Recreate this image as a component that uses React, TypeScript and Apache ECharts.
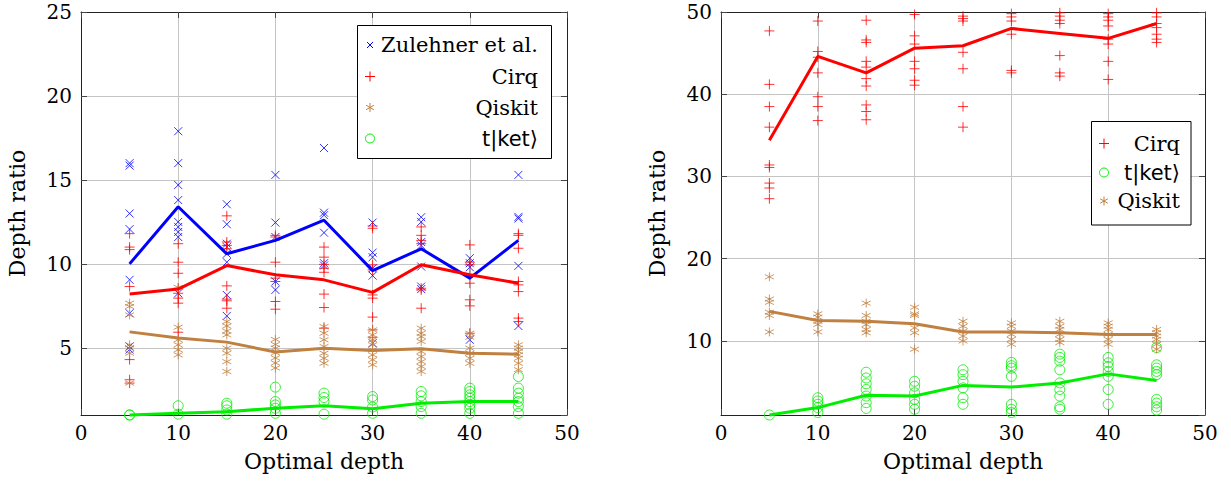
import React, { useEffect, useRef } from "react";
import * as echarts from "echarts";

// ---------- data ----------
const depths = [5, 10, 15, 20, 25, 30, 35, 40, 45];

// Left panel: scatter values per depth
const leftZulehner = [
  [16.0, 15.85, 13.0, 12.07, 9.05, 7.06, 5.08, 4.9],
  [17.9, 16.0, 14.7, 13.8, 12.5, 12.2, 11.9, 11.6, 8.25],
  [13.55, 12.36, 11.2, 11.0, 10.6, 10.1, 8.15, 6.9],
  [15.3, 12.46, 11.6, 8.95, 8.45],
  [16.9, 13.05, 12.9, 11.86, 10.04, 9.9],
  [12.46, 10.67, 10.4, 9.74, 9.3, 5.28],
  [12.78, 12.5, 11.3, 11.1, 9.84, 8.65, 8.5],
  [10.34, 10.04, 9.8, 5.48],
  [15.3, 12.8, 12.7, 9.88, 6.3],
];
const leftCirq = [
  [11.8, 11.0, 10.85, 8.65, 4.3, 3.1, 2.9],
  [11.2, 10.1, 9.44, 8.55, 8.25, 7.96, 7.66, 5.93],
  [12.86, 11.3, 11.1, 10.9, 8.69, 7.9, 7.8, 7.36],
  [11.7, 11.6, 10.1, 9.15, 8.95, 7.76, 7.3],
  [11.0, 10.4, 9.97, 9.74, 9.5, 8.2, 7.4, 6.17],
  [12.26, 12.12, 9.94, 9.64, 8.15, 7.96, 6.83, 6.07, 5.63],
  [12.2, 11.7, 11.4, 11.2, 8.55, 8.45, 7.36],
  [11.13, 10.1, 9.94, 9.35, 8.85, 7.86, 7.5, 5.87],
  [11.8, 11.7, 10.93, 8.95, 8.75, 8.35, 6.77, 6.57],
];
const leftQiskit = [
  [7.66, 7.46, 6.96, 5.18, 4.98, 4.68, 2.9],
  [8.6, 6.23, 5.48, 5.18, 4.88, 4.58],
  [6.57, 6.3, 6.0, 5.77, 4.98, 4.68, 4.18, 3.59],
  [5.5, 5.2, 4.98, 4.7, 4.4, 4.1, 3.8],
  [6.27, 5.87, 5.48, 5.08, 4.68, 4.38, 4.08],
  [6.07, 5.77, 5.48, 5.18, 4.88, 4.58, 4.29, 3.99],
  [6.17, 5.87, 5.67, 5.38, 4.78, 4.48, 4.18, 3.89, 3.59],
  [5.87, 5.63, 4.98, 4.68, 4.38, 4.08],
  [5.18, 4.98, 4.78, 4.58, 4.38, 4.08, 3.7],
];
const leftTket = [
  [1.0, 1.0],
  [1.55, 1.05],
  [1.7, 1.55, 1.3, 1.05],
  [2.66, 1.8, 1.6, 1.4, 1.1],
  [2.3, 2.04, 1.8, 1.05],
  [2.1, 1.9, 1.47, 1.1],
  [2.4, 2.14, 1.8, 1.5, 1.1],
  [2.6, 2.4, 2.2, 2.0, 1.8, 1.6, 1.4, 1.1],
  [3.29, 2.6, 2.3, 2.0, 1.8, 1.5, 1.1],
];
// Left panel: mean lines
const leftZulehnerMean = [10.0, 13.4, 10.6, 11.4, 12.6, 9.6, 10.9, 9.15, 11.4];
const leftCirqMean = [8.2, 8.5, 9.9, 9.35, 9.05, 8.3, 9.95, 9.35, 8.85];
const leftQiskitMean = [5.95, 5.58, 5.34, 4.75, 4.98, 4.84, 4.95, 4.68, 4.62];
const leftTketMean = [1.0, 1.1, 1.2, 1.4, 1.55, 1.37, 1.7, 1.8, 1.8];

// Right panel: scatter values per depth
const rightCirq = [
  [47.7, 41.2, 38.5, 36.0, 31.4, 31.1, 29.2, 28.6, 27.3],
  [48.9, 45.2, 44.5, 42.6, 39.7, 38.5, 36.8],
  [49.0, 46.6, 46.3, 44.0, 43.3, 41.9, 41.0, 38.7, 37.9, 36.9],
  [49.7, 47.1, 46.1, 44.0, 43.1, 41.7, 41.1],
  [49.5, 49.2, 48.9, 45.1, 43.1, 38.5, 36.0],
  [49.8, 49.4, 48.9, 47.3, 42.9, 42.6],
  [49.9, 49.5, 49.0, 48.6, 44.7, 42.6, 42.2],
  [49.8, 49.4, 49.0, 48.3, 46.7, 46.1, 44.0, 41.8],
  [49.9, 49.4, 48.6, 48.1, 47.3, 46.7, 46.3],
];
const rightTket = [
  [1.0],
  [3.1, 2.7, 2.3, 1.9, 1.3],
  [6.2, 5.5, 4.8, 4.1, 3.3, 2.5, 1.8],
  [5.1, 4.5, 3.7, 2.9, 2.3, 1.7],
  [6.5, 5.9, 5.1, 4.3, 3.1, 2.3],
  [7.4, 7.0, 6.7, 5.7, 2.3, 1.7, 1.3],
  [8.4, 8.0, 7.55, 6.5, 4.9, 4.1, 3.3, 2.0, 1.7],
  [8.0, 7.35, 6.9, 6.3, 5.7, 4.1, 2.3],
  [9.2, 7.1, 6.7, 6.3, 5.9, 2.9, 2.45, 2.0, 1.6],
];
const rightQiskit = [
  [17.8, 15.1, 14.7, 13.5, 13.1, 11.1],
  [13.3, 12.9, 12.4, 12.0, 11.1],
  [14.6, 13.1, 12.4, 12.0, 11.4, 11.0],
  [14.1, 13.3, 13.1, 11.6, 11.0, 9.0],
  [12.4, 11.8, 11.2, 10.6, 10.0],
  [12.2, 11.8, 11.2, 10.8, 10.2, 9.6],
  [12.4, 11.8, 11.4, 10.8, 10.2, 9.8],
  [12.2, 11.8, 11.4, 10.8, 10.2, 9.6],
  [11.4, 11.0, 10.6, 10.2, 9.6, 9.0],
];
// Right panel: mean lines
const rightCirqMean = [34.4, 44.6, 42.6, 45.6, 45.9, 48.0, 47.4, 46.8, 48.6];
const rightTketMean = [1.0, 1.9, 3.4, 3.3, 4.6, 4.4, 4.9, 6.0, 5.2];
const rightQiskitMean = [13.6, 12.5, 12.4, 12.1, 11.1, 11.1, 11.0, 10.8, 10.8];

const leftLegend = ["Zulehner et al.", "Cirq", "Qiskit", "t|ket⟩"];
const rightLegend = ["Cirq", "t|ket⟩", "Qiskit"];

// ---------- styles ----------
const BLUE = "#0000ff";
const RED = "#ff0000";
const BROWN = "#bf8040";
const GREEN = "#00ee00";
const SERIF = "DejaVu Serif";
const SANS = "DejaVu Sans";

const PLUS = "path://M0,5L10,5M5,0L5,10";
const CROSS = "path://M0,0L10,10M10,0L0,10";
const ASTER = "path://M5,0L5,10M0.67,2.5L9.33,7.5M0.67,7.5L9.33,2.5";

function flatten(groups: number[][]) {
  const out: number[][] = [];
  groups.forEach((g, i) => g.forEach((v) => out.push([depths[i], v])));
  return out;
}

function scatter(name: string, groups: number[][], symbol: string, size: number, color: string, ai: number) {
  return {
    type: "scatter",
    name,
    xAxisIndex: ai,
    yAxisIndex: ai,
    symbol,
    symbolSize: size,
    clip: false,
    silent: true,
    itemStyle: { color: "rgba(0,0,0,0)", borderColor: color, borderWidth: 1 },
    data: flatten(groups),
    z: 2,
  };
}

function meanLine(name: string, vals: number[], color: string, ai: number) {
  return {
    type: "line",
    name,
    xAxisIndex: ai,
    yAxisIndex: ai,
    showSymbol: false,
    symbol: "none",
    silent: true,
    clip: false,
    lineStyle: { color, width: 3 },
    data: vals.map((v, i) => [depths[i], v]),
    z: 3,
  };
}

function xAxes(gridIndex: number) {
  const common = {
    type: "value",
    gridIndex,
    min: 0,
    max: 50,
    interval: 10,
    axisLine: { show: true, onZero: false, lineStyle: { color: "#222", width: 1 } },
    axisTick: { show: true, inside: true, length: 6, lineStyle: { color: "#444" } },
  };
  return [
    {
      ...common,
      position: "bottom",
      name: "Optimal depth",
      nameLocation: "middle",
      nameGap: 35,
      nameTextStyle: { fontFamily: SERIF, fontSize: 22, color: "#000" },
      axisLabel: { fontFamily: SERIF, fontSize: 20, color: "#000", margin: 8 },
      splitLine: { show: true, lineStyle: { color: "#c4c4c4", width: 1 } },
    },
    {
      ...common,
      position: "top",
      axisLabel: { show: false },
      splitLine: { show: false },
    },
  ];
}

function yAxes(gridIndex: number, max: number, split: number) {
  const common = {
    type: "value",
    gridIndex,
    min: 1,
    max,
    splitNumber: split,
    axisLine: { show: true, onZero: false, lineStyle: { color: "#222", width: 1 } },
    axisTick: { show: true, inside: true, length: 6, lineStyle: { color: "#444" } },
  };
  return [
    {
      ...common,
      position: "left",
      name: "Depth ratio",
      nameLocation: "middle",
      nameRotate: 90,
      nameGap: 53,
      nameTextStyle: { fontFamily: SERIF, fontSize: 22, color: "#000" },
      axisLabel: { fontFamily: SERIF, fontSize: 20, color: "#000", margin: 9, showMinLabel: false },
      splitLine: { show: true, lineStyle: { color: "#c4c4c4", width: 1 } },
    },
    {
      ...common,
      position: "right",
      axisLabel: { show: false },
      splitLine: { show: false },
    },
  ];
}

// legend marker graphics
function markerGraphic(kind: string, cx: number, cy: number, color: string, r: number) {
  const s = { stroke: color, lineWidth: 1, fill: null };
  if (kind === "cross") {
    return [
      { type: "line", shape: { x1: cx - r, y1: cy - r, x2: cx + r, y2: cy + r }, style: s, z: 101 },
      { type: "line", shape: { x1: cx + r, y1: cy - r, x2: cx - r, y2: cy + r }, style: s, z: 101 },
    ];
  }
  if (kind === "plus") {
    return [
      { type: "line", shape: { x1: cx - r, y1: cy, x2: cx + r, y2: cy }, style: s, z: 101 },
      { type: "line", shape: { x1: cx, y1: cy - r, x2: cx, y2: cy + r }, style: s, z: 101 },
    ];
  }
  if (kind === "aster") {
    const dx = r * 0.866, dy = r * 0.5;
    return [
      { type: "line", shape: { x1: cx, y1: cy - r, x2: cx, y2: cy + r }, style: s, z: 101 },
      { type: "line", shape: { x1: cx - dx, y1: cy - dy, x2: cx + dx, y2: cy + dy }, style: s, z: 101 },
      { type: "line", shape: { x1: cx - dx, y1: cy + dy, x2: cx + dx, y2: cy - dy }, style: s, z: 101 },
    ];
  }
  return [{ type: "circle", shape: { cx, cy, r }, style: { stroke: color, lineWidth: 1, fill: "rgba(0,0,0,0)" }, z: 101 }];
}

function legendText(text: string, x: number, y: number) {
  const isKet = text.indexOf("ket") >= 0;
  return {
    type: "text",
    x,
    y,
    z: 101,
    style: {
      text,
      align: "right",
      verticalAlign: "middle",
      fontFamily: isKet ? SANS : SERIF,
      fontSize: 21,
      fill: "#000",
    },
  };
}

export default function App() {
  const ref = useRef<HTMLDivElement>(null);

  useEffect(() => {
    if (!ref.current) return;
    const chart = echarts.init(ref.current, null, { renderer: "svg" });

    const leftKinds = [
      { kind: "cross", color: BLUE, r: 3 },
      { kind: "plus", color: RED, r: 5 },
      { kind: "aster", color: BROWN, r: 4.5 },
      { kind: "circle", color: GREEN, r: 4.5 },
    ];
    const leftRows = [45, 76.5, 107.5, 138.5];
    const rightKinds = [
      { kind: "plus", color: RED, r: 5 },
      { kind: "circle", color: GREEN, r: 4.5 },
      { kind: "aster", color: BROWN, r: 4.5 },
    ];
    const rightRows = [143.5, 172.5, 201];

    const graphics: any[] = [
      {
        type: "rect",
        shape: { x: 357.5, y: 25.5, width: 194, height: 133 },
        style: { fill: "#fff", stroke: "#000", lineWidth: 1 },
        z: 100,
      },
      {
        type: "rect",
        shape: { x: 1091.5, y: 121.5, width: 99.5, height: 103.5 },
        style: { fill: "#fff", stroke: "#000", lineWidth: 1 },
        z: 100,
      },
    ];
    leftLegend.forEach((t, i) => {
      const k = leftKinds[i];
      graphics.push(...markerGraphic(k.kind, 370, leftRows[i], k.color, k.r));
      graphics.push(legendText(t, 538, leftRows[i]));
    });
    rightLegend.forEach((t, i) => {
      const k = rightKinds[i];
      graphics.push(...markerGraphic(k.kind, 1104, rightRows[i], k.color, k.r));
      graphics.push(legendText(t, 1180, rightRows[i]));
    });

    chart.setOption({
      animation: false,
      backgroundColor: "#fff",
      grid: [
        { left: 81, top: 12, width: 486, height: 403 },
        { left: 721, top: 12, width: 484, height: 403 },
      ],
      xAxis: [...xAxes(0), ...xAxes(1)],
      yAxis: [...yAxes(0, 25, 5), ...yAxes(1, 50, 5)],
      series: [
        scatter("Zulehner et al.", leftZulehner, CROSS, 8, BLUE, 0),
        scatter("Cirq", leftCirq, PLUS, 10, RED, 0),
        scatter("Qiskit", leftQiskit, ASTER, 9, BROWN, 0),
        scatter("t|ket⟩", leftTket, "circle", 10, GREEN, 0),
        meanLine("Zulehner mean", leftZulehnerMean, BLUE, 0),
        meanLine("Cirq mean", leftCirqMean, RED, 0),
        meanLine("Qiskit mean", leftQiskitMean, BROWN, 0),
        meanLine("tket mean", leftTketMean, GREEN, 0),
        scatter("Cirq", rightCirq, PLUS, 10, RED, 2),
        scatter("t|ket⟩", rightTket, "circle", 10, GREEN, 2),
        scatter("Qiskit", rightQiskit, ASTER, 9, BROWN, 2),
        meanLine("Cirq mean", rightCirqMean, RED, 2),
        meanLine("tket mean", rightTketMean, GREEN, 2),
        meanLine("Qiskit mean", rightQiskitMean, BROWN, 2),
      ],
      graphic: graphics,
    });

    return () => chart.dispose();
  }, []);

  return (
    <div
      ref={ref}
      style={{ position: "absolute", left: 0, top: 0, width: 1231, height: 485, background: "#fff" }}
    />
  );
}
